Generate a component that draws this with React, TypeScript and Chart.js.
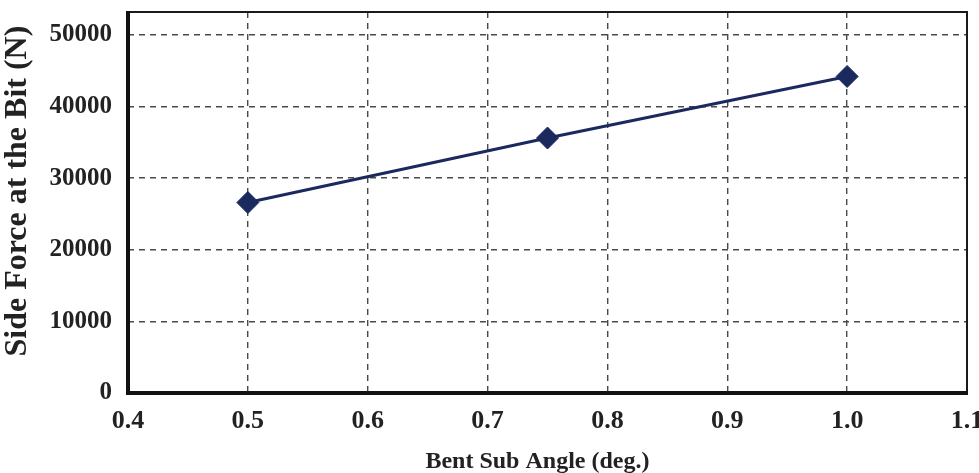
import React, { useEffect, useRef } from 'react';
import { Chart, registerables } from 'chart.js';

Chart.register(...registerables);

const bentSubAngle = [0.5, 0.75, 1.0];
const sideForce = [26600, 35600, 44200];
const xTickValues = [0.4, 0.5, 0.6, 0.7, 0.8, 0.9, 1.0, 1.1];
const yTickValues = [0, 10000, 20000, 30000, 40000, 50000];
const xMin = 0.4;
const xMax = 1.1;
const yMin = 0;
const yMax = 53200;
const xTitle = 'Bent Sub Angle (deg.)';
const yTitle = 'Side Force at the Bit (N)';

const FONT = "'Liberation Serif', 'Times New Roman', serif";
const LINE_COLOR = '#1b2a5e';
const TEXT_COLOR = '#222';

const framePlugin = {
  id: 'frame',
  afterDraw(chart: any) {
    const { ctx, chartArea } = chart;
    const { left, top, right, bottom } = chartArea;
    ctx.save();
    ctx.setLineDash([]);
    ctx.strokeStyle = '#1a1a1a';
    ctx.lineWidth = 2;
    ctx.strokeRect(left, top, right - left, bottom - top);
    ctx.lineWidth = 4;
    ctx.strokeStyle = '#111';
    ctx.beginPath();
    ctx.moveTo(left, top - 1);
    ctx.lineTo(left, bottom + 2);
    ctx.moveTo(left - 2, bottom);
    ctx.lineTo(right + 1, bottom);
    ctx.stroke();

    // axis titles
    ctx.fillStyle = TEXT_COLOR;
    ctx.textAlign = 'center';
    ctx.textBaseline = 'middle';
    ctx.font = `bold 24px ${FONT}`;
    ctx.fillText(xTitle, left + (right - left) * 0.488, 462);
    ctx.translate(18, top + (bottom - top) * 0.47);
    ctx.rotate(-Math.PI / 2);
    ctx.font = `bold 32px ${FONT}`;
    ctx.fillText(yTitle, 0, 0);
    ctx.restore();
  },
};

export default function App() {
  const ref = useRef<HTMLCanvasElement>(null);

  useEffect(() => {
    if (!ref.current) return;
    const chart = new Chart(ref.current, {
      type: 'line',
      data: {
        datasets: [
          {
            data: bentSubAngle.map((x, i) => ({ x, y: sideForce[i] })),
            borderColor: LINE_COLOR,
            backgroundColor: LINE_COLOR,
            borderWidth: 3,
            pointStyle: 'rectRot',
            pointRadius: 11,
            pointHoverRadius: 11,
            pointBorderWidth: 1,
            pointBackgroundColor: LINE_COLOR,
            pointBorderColor: LINE_COLOR,
            tension: 0,
          },
        ],
      },
      options: {
        animation: false,
        responsive: true,
        maintainAspectRatio: false,
        layout: { padding: { top: 12, right: 11, left: 0, bottom: 0 } },
        plugins: { legend: { display: false }, tooltip: { enabled: false } },
        scales: {
          x: {
            type: 'linear',
            min: xMin,
            max: xMax,
            afterBuildTicks: (s: any) => {
              s.ticks = xTickValues.map((v) => ({ value: v }));
            },
            afterFit: (s: any) => {
              s.height = 80;
              s.paddingLeft = 0;
              s.paddingRight = 0;
            },
            ticks: {
              callback: (v: any) => Number(v).toFixed(1),
              font: { family: FONT, weight: 'bold', size: 26 },
              color: TEXT_COLOR,
              padding: 13,
              maxRotation: 0,
              autoSkip: false,
            },
            grid: {
              drawTicks: false,
              lineWidth: 1.4,
              color: (c: any) => {
                const v = c.tick ? c.tick.value : 0;
                return Math.abs(v - xMin) < 1e-6 || Math.abs(v - xMax) < 1e-6 ? 'rgba(0,0,0,0)' : '#4a4a4a';
              },
            },
            border: { display: false, dash: [6, 5] },
          },
          y: {
            type: 'linear',
            min: yMin,
            max: yMax,
            afterBuildTicks: (s: any) => {
              s.ticks = yTickValues.map((v) => ({ value: v }));
            },
            afterFit: (s: any) => {
              s.width = 128;
              s.paddingTop = 0;
              s.paddingBottom = 0;
            },
            ticks: {
              font: { family: FONT, weight: 'bold', size: 25 },
              color: TEXT_COLOR,
              padding: 16,
              autoSkip: false,
              callback: (v: any) => String(v),
            },
            grid: {
              drawTicks: false,
              lineWidth: 1.4,
              color: (c: any) => {
                const v = c.tick ? c.tick.value : 0;
                return v === yMin ? 'rgba(0,0,0,0)' : '#4a4a4a';
              },
            },
            border: { display: false, dash: [6, 5] },
          },
        },
      },
      plugins: [framePlugin],
    } as any);
    return () => chart.destroy();
  }, []);

  return (
    <div style={{ position: 'absolute', left: 0, top: 0, width: 979, height: 473, background: '#fff' }}>
      <canvas ref={ref} />
    </div>
  );
}
